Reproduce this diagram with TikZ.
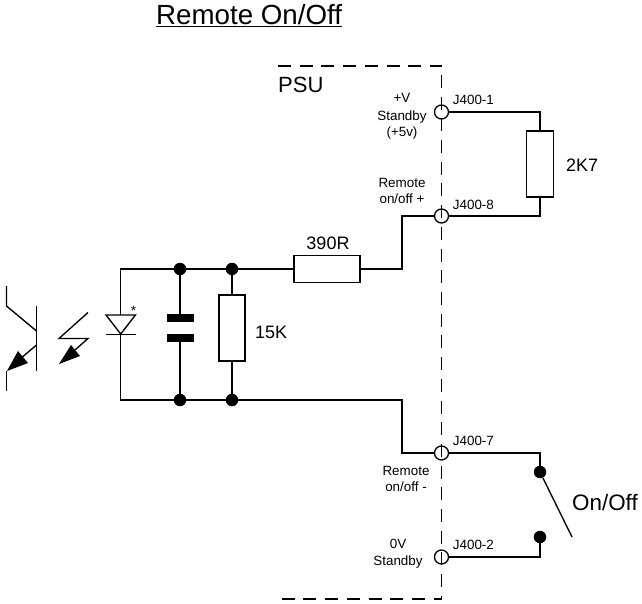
\documentclass[tikz,border=0pt]{standalone}
\usepackage{fontspec}
\setmainfont{Liberation Sans}
\tikzset{
  wire/.style={line width=1.35pt,line join=miter},
  res/.style={draw,line width=1.35pt,fill=white,minimum width=#1,inner sep=0pt},
  dot/.style={circle,fill=black,inner sep=0pt,minimum size=12.5pt},
  term/.style={circle,draw,line width=1.35pt,fill=none,inner sep=0pt,minimum size=14pt},
  plate/.style={fill=black,inner sep=0pt,minimum width=27pt,minimum height=8pt},
  small/.style={font=\fontsize{13.4}{16.6}\selectfont,align=center,inner sep=0pt},
  mid/.style={font=\fontsize{18}{21}\selectfont,inner sep=0pt},
  psu/.style={line width=1.35pt,dash pattern=on 13pt off 8.7pt},
}
\begin{document}
\begin{tikzpicture}[x=1pt,y=-1pt]
\useasboundingbox (0,0) rectangle (642,604);
\fill[white] (0,0) rectangle (642,604);
\draw[psu] (278,66) -- (442,66);
\draw[psu] (441.7,75) -- (441.7,599);
\draw[psu] (281.7,599) -- (442.4,599);
\node[term] (j1) at (441.5,112) {};
\node[term] (j8) at (441.5,216) {};
\node[term] (j7) at (441.5,453) {};
\node[term] (j2) at (441.5,557) {};
\node[res=26.5pt,minimum height=66pt] (r2k7) at (540,164) {};
\node[res=66pt,minimum height=27pt] (r390) at (327,269) {};
\node[res=26pt,minimum height=66pt] (r15k) at (232,328) {};
\node[dot] (dt1) at (180,269) {};
\node[dot] (dt2) at (232,269) {};
\node[dot] (db1) at (180,400) {};
\node[dot] (db2) at (232,400) {};
\node[dot] (sw1) at (540,472) {};
\node[dot] (sw2) at (540,537) {};
\node[plate] (c1) at (180,318) {};
\node[plate] (c2) at (180,338) {};
\coordinate (sw3) at (572,537);
\draw[wire] (j1) -- (540,112) -- (r2k7.north);
\draw[wire] (r2k7.south) -- (540,216) -- (j8);
\draw[wire] (j8) -- (402,216) -- (402,269) -- (r390);
\draw[wire] (r390) -- (dt2) -- (dt1) -- (120.7,269) -- (120.7,400) -- (db1) -- (db2) -- (402,400) -- (402,453) -- (j7);
\draw[wire] (dt1) -- (c1);
\draw[wire] (c2) -- (db1);
\draw[wire] (dt2) -- (r15k);
\draw[wire] (r15k) -- (db2);
\draw[wire] (j7) -- (540,453) -- (sw1);
\draw[wire] (sw1) -- (sw3);
\draw[wire] (sw2) -- (540,557) -- (j2);
% diode
\draw[wire,fill=white] (106,315) -- (135.5,315) -- (120.7,334) -- cycle;
\draw[wire] (106,334.5) -- (135.5,334.5);
\node[small,anchor=base] (star) at (133.5,315) {*};
% light arrows
\draw[wire] (88,312.5) -- (59,338.5) -- (88,338.5) -- (75,350);
\fill (59,364) -- (71,345) -- (80,356) -- cycle;
% transistor
\draw[wire] (36.5,306) -- (36.5,371);
\draw[wire] (6.5,286) -- (6.5,306) -- (36.5,331);
\draw[wire] (36.5,345) -- (20,359);
\fill (7,371) -- (18,351) -- (28,363) -- cycle;
\draw[wire] (6.5,371) -- (6.5,391);
% labels
\node[inner sep=0pt,anchor=base west,font=\fontsize{27.7}{32}\selectfont] (title) at (156,25) {\underline{Remote On/Off}};
\node[inner sep=0pt,anchor=base west,font=\fontsize{22}{26}\selectfont] (lpsu) at (278,93) {PSU};
\node[mid,anchor=base west] (l2k7) at (566,172) {2K7};
\node[mid,anchor=base] (l390) at (328,249) {390R};
\node[mid,anchor=base west] (l15k) at (255,338) {15K};
\node[inner sep=0pt,anchor=base west,font=\fontsize{22.4}{26}\selectfont] (lonoff) at (572,510) {On/Off};
\node[small,anchor=base west] at (452.7,105) {J400-1};
\node[small,anchor=base west] at (452.7,209) {J400-8};
\node[small,anchor=base west] at (452.7,445) {J400-7};
\node[small,anchor=base west] at (452.7,549) {J400-2};
\node[small,anchor=base] at (402,103) {+V};
\node[small,anchor=base] at (402,120.5) {Standby};
\node[small,anchor=base] at (402,137) {(+5v)};
\node[small,anchor=base] at (402,188) {Remote};
\node[small,anchor=base] at (402,204) {on/off +};
\node[small,anchor=base] at (406,475) {Remote};
\node[small,anchor=base] at (406,491) {on/off -};
\node[small,anchor=base] at (398,548) {0V};
\node[small,anchor=base] at (398,565) {Standby};
\end{tikzpicture}
\end{document}
